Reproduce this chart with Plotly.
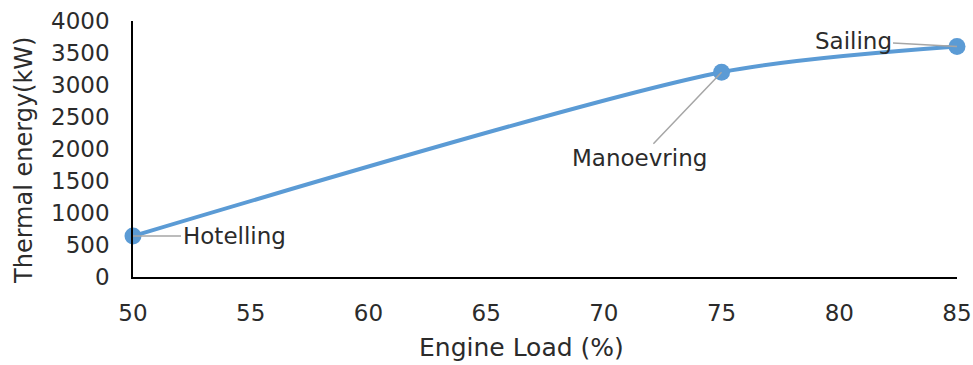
import plotly.graph_objects as go

engine_load = [50, 75, 85]
thermal_energy = [640, 3200, 3600]
point_labels = ["Hotelling", "Manoevring", "Sailing"]
x_ticks = [50, 55, 60, 65, 70, 75, 80, 85]
y_ticks = [0, 500, 1000, 1500, 2000, 2500, 3000, 3500, 4000]
x_title = "Engine Load (%)"
y_title = "Thermal energy(kW)"

FONT = "DejaVu Sans"
TXT = "#2b2b2b"

fig = go.Figure()
fig.add_trace(go.Scatter(
    x=engine_load, y=thermal_energy, mode="lines+markers",
    line=dict(color="#5B9BD5", width=4, shape="spline", smoothing=0.75),
    marker=dict(color="#5B9BD5", size=17),
    cliponaxis=False, showlegend=False, hoverinfo="skip",
))

offsets = [(101, 0), (-82, 86), (-104, -6)]
for xv, yv, lab, (ax, ay) in zip(engine_load, thermal_energy, point_labels, offsets):
    fig.add_annotation(
        x=xv, y=yv, text=lab, showarrow=True, arrowhead=0, arrowwidth=1.5,
        arrowcolor="#A6A6A6", ax=ax, ay=ay, standoff=0,
        font=dict(family=FONT, size=23, color=TXT),
    )

fig.add_annotation(
    text=x_title, xref="paper", yref="paper", x=0.472, y=-0.277,
    xanchor="center", yanchor="middle", showarrow=False,
    font=dict(family=FONT, size=25, color=TXT),
)
fig.add_annotation(
    text=y_title, xref="paper", yref="paper", x=-0.1323, y=0.457,
    xanchor="center", yanchor="middle", showarrow=False, textangle=-90,
    font=dict(family=FONT, size=24, color=TXT),
)

fig.update_layout(
    width=973, height=365,
    margin=dict(l=133, r=16, t=21, b=88),
    paper_bgcolor="white", plot_bgcolor="white",
    font=dict(family=FONT, size=23, color=TXT),
)
fig.update_xaxes(
    range=[50, 85], tickvals=x_ticks, showgrid=False, zeroline=False,
    showline=True, linecolor="#000000", linewidth=1.5, automargin=False,
    ticks="", ticklabelstandoff=15,
    tickfont=dict(family=FONT, size=23, color=TXT),
)
fig.update_yaxes(
    range=[0, 4000], tickvals=y_ticks, showgrid=False, zeroline=False,
    showline=True, linecolor="#000000", linewidth=1.5, automargin=False,
    ticks="", ticklabelstandoff=17,
    tickfont=dict(family=FONT, size=23, color=TXT),
)

fig.write_html("out.html")
